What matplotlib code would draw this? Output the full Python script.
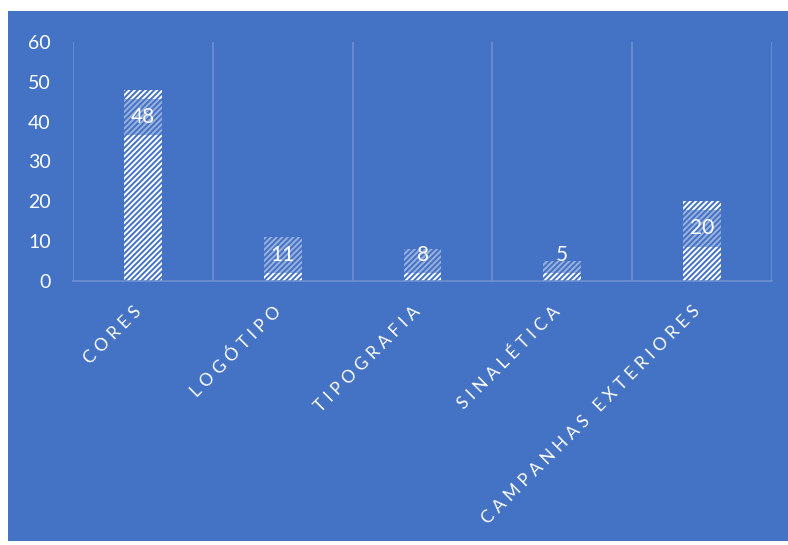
import matplotlib.pyplot as plt
from matplotlib.patches import Rectangle
from matplotlib.transforms import ScaledTranslation

# Data
categories = ['CORES', 'LOGÓTIPO', 'TIPOGRAFIA', 'SINALÉTICA', 'CAMPANHAS EXTERIORES']
values = [48, 11, 8, 5, 20]
yticks = [0, 10, 20, 30, 40, 50, 60]

blue = '#4472C4'
grid = '#6f90d2'

plt.rcParams['font.family'] = ['Lato', 'DejaVu Sans']
plt.rcParams['hatch.linewidth'] = 1.4

fig = plt.figure(figsize=(7.88, 5.45), dpi=100, facecolor='white')
fig.patches.append(Rectangle((8 / 788, 4 / 545), 780 / 788, 530 / 545,
                             transform=fig.transFigure, facecolor=blue,
                             edgecolor='none', zorder=-10))

ax = fig.add_axes([73 / 788, 1 - 281 / 545, 699 / 788, 239 / 545])
ax.set_facecolor('none')
ax.set_zorder(5)

x = list(range(len(categories)))
bars = ax.bar(x, values, width=0.27, facecolor='white', edgecolor=blue,
              linewidth=0.01, hatch='/' * 6, zorder=2)

# data labels with a translucent box clipped to the bar
for bar, v in zip(bars, values):
    cx = bar.get_x() + bar.get_width() / 2
    ly = max(v - 6.8, 6.5)
    box = Rectangle((bar.get_x(), ly - 4.6), bar.get_width(), 9.2,
                    facecolor=blue, alpha=0.55, edgecolor='none', zorder=3)
    ax.add_patch(box)
    box.set_clip_path(bar.get_path(), bar.get_transform())
    ax.text(cx, ly, str(v), ha='center', va='center', color='white',
            fontsize=15, zorder=4)

ax.set_xlim(-0.5, len(categories) - 0.5)
ax.set_ylim(0, 60)
ax.set_yticks(yticks)
ax.tick_params(axis='y', length=0, pad=16, labelsize=14, labelcolor='white')

# vertical grid at category boundaries
for b in [i - 0.5 for i in range(len(categories) + 1)]:
    ax.axvline(b, color=grid, linewidth=1.2, zorder=1)

for s in ['top', 'right', 'left']:
    ax.spines[s].set_visible(False)
ax.spines['bottom'].set_color(grid)
ax.spines['bottom'].set_linewidth(1.2)

ax.set_xticks(x)
ax.set_xticklabels([' '.join(c) for c in categories],
                   rotation=45, ha='right', rotation_mode='anchor',
                   fontsize=12.5, color='white')
ax.tick_params(axis='x', length=0, pad=16)
shift = ScaledTranslation(-0.1, 0, fig.dpi_scale_trans)
for lab in ax.get_xticklabels():
    lab.set_transform(lab.get_transform() + shift)

fig.savefig('out.png', dpi=100, facecolor='white')
